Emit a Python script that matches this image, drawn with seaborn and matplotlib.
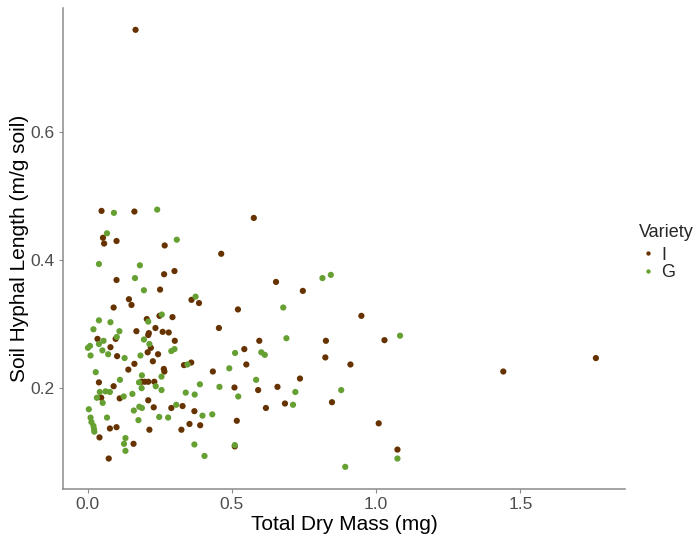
import matplotlib
matplotlib.use("Agg")
import matplotlib.pyplot as plt
import seaborn as sns
import pandas as pd

# Variety I (brown)
i_mass = [0.048, 0.162, 0.053, 0.057, 0.100, 0.267, 0.463, 0.100, 0.265, 0.301,
          0.251, 0.143, 0.152, 0.090, 0.360, 0.386, 0.521, 0.205, 0.249, 0.294,
          0.455, 0.169, 0.235, 0.212, 0.210, 0.260, 0.281, 0.034, 0.097, 0.302,
          0.079, 0.102, 0.208, 0.219, 0.244, 0.226, 0.162, 0.141, 0.264, 0.266,
          0.334, 0.359, 0.434, 0.039, 0.090, 0.187, 0.198, 0.210, 0.231, 0.509,
          0.047, 0.111, 0.210, 0.229, 0.290, 0.329, 0.370, 0.077, 0.100, 0.214,
          0.325, 0.353, 0.390, 0.517, 0.041, 0.159, 0.510, 0.073, 0.166, 0.576,
          0.653, 0.746, 0.949, 0.595, 0.826, 1.029, 0.543, 0.550, 0.824, 0.911,
          0.736, 0.591, 0.658, 0.618, 0.684, 0.847, 1.009, 1.074, 1.762, 1.441]
i_hyphal = [0.476, 0.475, 0.434, 0.425, 0.429, 0.422, 0.409, 0.368, 0.377, 0.382,
            0.353, 0.338, 0.329, 0.325, 0.337, 0.332, 0.322, 0.307, 0.312, 0.310,
            0.293, 0.288, 0.293, 0.285, 0.282, 0.287, 0.286, 0.276, 0.276, 0.273,
            0.263, 0.249, 0.255, 0.262, 0.252, 0.241, 0.237, 0.228, 0.229, 0.225,
            0.235, 0.239, 0.225, 0.208, 0.202, 0.209, 0.209, 0.209, 0.209, 0.200,
            0.184, 0.183, 0.180, 0.169, 0.168, 0.171, 0.163, 0.136, 0.138, 0.134,
            0.134, 0.143, 0.141, 0.148, 0.122, 0.112, 0.108, 0.089, 0.759, 0.465,
            0.365, 0.351, 0.312, 0.273, 0.273, 0.274, 0.260, 0.236, 0.247, 0.236,
            0.214, 0.196, 0.201, 0.168, 0.175, 0.177, 0.144, 0.103, 0.246, 0.225]

# Variety G (green)
g_mass = [0.091, 0.241, 0.067, 0.309, 0.039, 0.181, 0.164, 0.195, 0.374, 0.039,
          0.079, 0.210, 0.257, 0.020, 0.110, 0.055, 0.039, 0.101, 0.195, 0.214,
          0.001, 0.008, 0.051, 0.010, 0.071, 0.128, 0.183, 0.290, 0.301, 0.511,
          0.346, 0.028, 0.491, 0.188, 0.256, 0.112, 0.178, 0.187, 0.236, 0.256,
          0.389, 0.457, 0.042, 0.062, 0.077, 0.032, 0.052, 0.125, 0.155, 0.340,
          0.371, 0.522, 0.004, 0.160, 0.179, 0.188, 0.307, 0.067, 0.010, 0.013,
          0.020, 0.022, 0.023, 0.176, 0.248, 0.279, 0.398, 0.432, 0.131, 0.126,
          0.131, 0.370, 0.510, 0.405, 0.814, 0.843, 0.678, 0.689, 1.083, 0.602,
          0.614, 0.584, 0.720, 0.879, 0.712, 1.074, 0.893]
g_hyphal = [0.473, 0.478, 0.441, 0.431, 0.393, 0.391, 0.371, 0.352, 0.342, 0.305,
            0.302, 0.303, 0.314, 0.291, 0.288, 0.273, 0.268, 0.279, 0.275, 0.268,
            0.262, 0.265, 0.258, 0.250, 0.252, 0.246, 0.250, 0.257, 0.260, 0.254,
            0.236, 0.224, 0.230, 0.219, 0.217, 0.212, 0.208, 0.199, 0.202, 0.196,
            0.205, 0.201, 0.193, 0.194, 0.193, 0.184, 0.176, 0.186, 0.190, 0.192,
            0.189, 0.186, 0.166, 0.164, 0.170, 0.168, 0.173, 0.153, 0.153, 0.146,
            0.140, 0.135, 0.131, 0.149, 0.154, 0.153, 0.156, 0.158, 0.121, 0.112,
            0.101, 0.111, 0.110, 0.093, 0.371, 0.376, 0.325, 0.277, 0.281, 0.255,
            0.251, 0.212, 0.193, 0.196, 0.173, 0.089, 0.076]

varieties = ["I", "G"]
colors = {"I": "#663300", "G": "#66A033"}

df = pd.DataFrame({
    "mass": i_mass + g_mass,
    "hyphal": i_hyphal + g_hyphal,
    "Variety": ["I"] * len(i_mass) + ["G"] * len(g_mass),
})

sns.set_theme(style="white")
plt.rcParams["font.family"] = ["Liberation Sans", "DejaVu Sans"]

fig = plt.figure(figsize=(6.94, 5.38), dpi=100)
ax = fig.add_axes([0.0908, 0.0911, 0.8098, 0.8939])

sns.scatterplot(data=df, x="mass", y="hyphal", hue="Variety", hue_order=varieties,
                palette=colors, s=20, linewidth=0, ax=ax, legend=True)

ax.set_xlim(-0.0855, 1.863)
ax.set_ylim(0.0414, 0.793)
ax.set_xticks([0.0, 0.5, 1.0, 1.5])
ax.set_xticklabels(["0.0", "0.5", "1.0", "1.5"])
ax.set_yticks([0.2, 0.4, 0.6])
ax.set_yticklabels(["0.2", "0.4", "0.6"])

for side in ["top", "right"]:
    ax.spines[side].set_visible(False)
for side in ["left", "bottom"]:
    ax.spines[side].set_color("#8a8a8a")
    ax.spines[side].set_linewidth(1.1)

ax.tick_params(axis="both", which="major", length=3, width=0.8, color="#8a8a8a",
               labelsize=12.5, labelcolor="#4d4d4d", pad=3, left=True, bottom=True)

ax.set_xlabel("Total Dry Mass (mg)", fontsize=15, color="black", labelpad=2)
ax.set_ylabel("Soil Hyphal Length (m/g soil)", fontsize=15, color="black", labelpad=1)

handles, labels = ax.get_legend_handles_labels()
leg = ax.legend(handles, labels, title="Variety", loc="upper left",
                bbox_to_anchor=(0.910, 0.597), bbox_transform=fig.transFigure,
                frameon=False, fontsize=13, title_fontsize=13,
                markerscale=0.7, handletextpad=0.25, labelspacing=0.05,
                borderaxespad=0, handlelength=1.0)
leg._legend_box.align = "left"
leg._legend_box.sep = 4

fig.savefig("out.png", dpi=100)
